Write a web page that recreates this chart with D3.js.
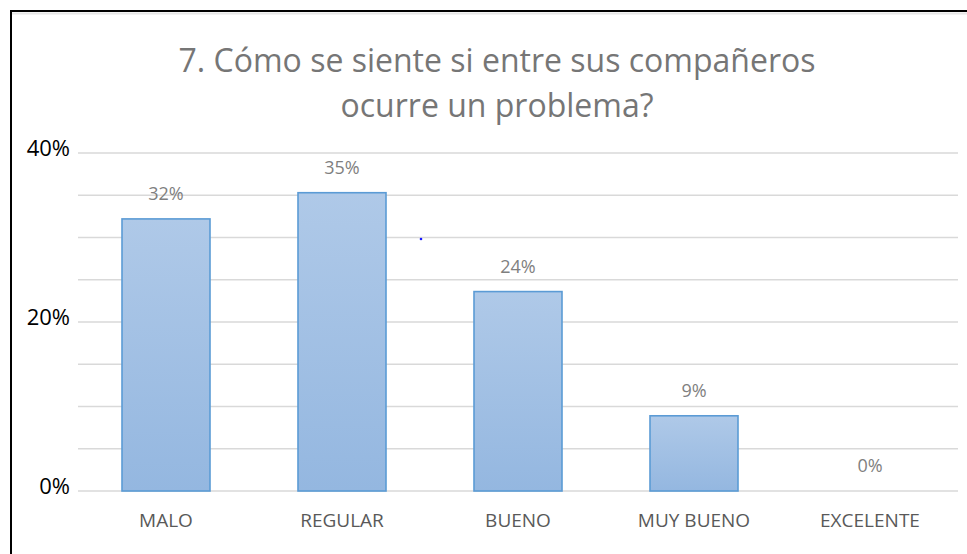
<!DOCTYPE html>
<html>
<head>
<meta charset="utf-8">
<script src="https://cdn.jsdelivr.net/npm/d3@7"></script>
<style>
body { margin: 0; background: #fff; }
svg { display: block; font-family: "Open Sans", "Noto Sans", sans-serif; }
.grid line { stroke: #d9d9d9; stroke-width: 1.3; }
.ylab { fill: #000; font-size: 22px; }
.xlab { fill: #595959; font-size: 19px; }
.val { fill: #7f7f7f; font-size: 18px; }
.title { fill: #767676; font-size: 32px; }
</style>
</head>
<body>
<div id="chart"></div>
<script>
// chart data
var categories = ["MALO", "REGULAR", "BUENO", "MUY BUENO", "EXCELENTE"];
var values = [32.2, 35.3, 23.6, 8.9, 0];
var valueLabels = ["32%", "35%", "24%", "9%", "0%"];
var gridTicks = [0, 5, 10, 15, 20, 25, 30, 35, 40];
var yLabels = [0, 20, 40];
var titleLines = ["7. Cómo se siente si entre sus compañeros", "ocurre un problema?"];

var width = 967, height = 554;
var margin = {top: 153, right: 9, bottom: 63, left: 78};

var svg = d3.select('#chart')
  .append('svg')
  .attr('width', width)
  .attr('height', height);

var defs = svg.append('defs');
var grad = defs.append('linearGradient')
  .attr('id', 'barFill')
  .attr('x1', 0).attr('y1', 0).attr('x2', 0).attr('y2', 1);
grad.append('stop').attr('offset', '0%').attr('stop-color', '#afc9e8');
grad.append('stop').attr('offset', '100%').attr('stop-color', '#94b7e0');

var x = d3.scaleBand()
  .domain(categories)
  .range([margin.left, width - margin.right])
  .paddingInner(0.5)
  .paddingOuter(0.25);

var y = d3.scaleLinear()
  .domain([0, 40])
  .range([height - margin.bottom, margin.top]);

// gridlines
svg.append('g')
  .attr('class', 'grid')
  .selectAll('line')
  .data(gridTicks)
  .enter().append('line')
  .attr('x1', margin.left)
  .attr('x2', width - margin.right)
  .attr('y1', function(d){ return y(d); })
  .attr('y2', function(d){ return y(d); });

// y labels (only 0, 20, 40)
svg.selectAll('.ylab')
  .data(yLabels)
  .enter().append('text')
  .attr('class', 'ylab')
  .attr('x', 70)
  .attr('y', function(d){ return y(d) + 3; })
  .style('text-anchor', 'end')
  .text(function(d){ return d + '%'; });

// bars
svg.selectAll('.bar')
  .data(values)
  .enter().append('rect')
  .attr('class', 'bar')
  .attr('x', function(d, i){ return x(categories[i]); })
  .attr('width', x.bandwidth())
  .attr('y', function(d){ return y(d); })
  .attr('height', function(d){ return y(0) - y(d); })
  .style('fill', 'url(#barFill)')
  .style('stroke', '#5b9bd5')
  .style('stroke-width', 1.6)
  .style('display', function(d){ return d > 0 ? null : 'none'; });

// value labels
svg.selectAll('.val')
  .data(values)
  .enter().append('text')
  .attr('class', 'val')
  .attr('x', function(d, i){ return x(categories[i]) + x.bandwidth() / 2; })
  .attr('y', function(d){ return y(d) - 19; })
  .style('text-anchor', 'middle')
  .text(function(d, i){ return valueLabels[i]; });

// category labels
svg.selectAll('.xlab')
  .data(categories)
  .enter().append('text')
  .attr('class', 'xlab')
  .attr('x', function(d){ return x(d) + x.bandwidth() / 2; })
  .attr('y', y(0) + 36)
  .style('text-anchor', 'middle')
  .text(function(d){ return d; });

// title
svg.selectAll('.title')
  .data(titleLines)
  .enter().append('text')
  .attr('class', 'title')
  .attr('x', 497)
  .attr('y', function(d, i){ return 72 + i * 45; })
  .style('text-anchor', 'middle')
  .text(function(d){ return d; });

// stray dot from the original screenshot
svg.append('circle')
  .attr('cx', 421)
  .attr('cy', 239)
  .attr('r', 1.3)
  .style('fill', '#1a1aff');

// frame (top and left edges visible)
svg.append('line')
  .attr('x1', 10).attr('x2', width)
  .attr('y1', 11).attr('y2', 11)
  .style('stroke', '#000').style('stroke-width', 2);
svg.append('line')
  .attr('x1', 11).attr('x2', 11)
  .attr('y1', 10).attr('y2', height)
  .style('stroke', '#000').style('stroke-width', 2);
svg.append('line')
  .attr('x1', 12).attr('x2', width)
  .attr('y1', 13.5).attr('y2', 13.5)
  .style('stroke', '#e6e6e6').style('stroke-width', 2);
</script>
</body>
</html>
